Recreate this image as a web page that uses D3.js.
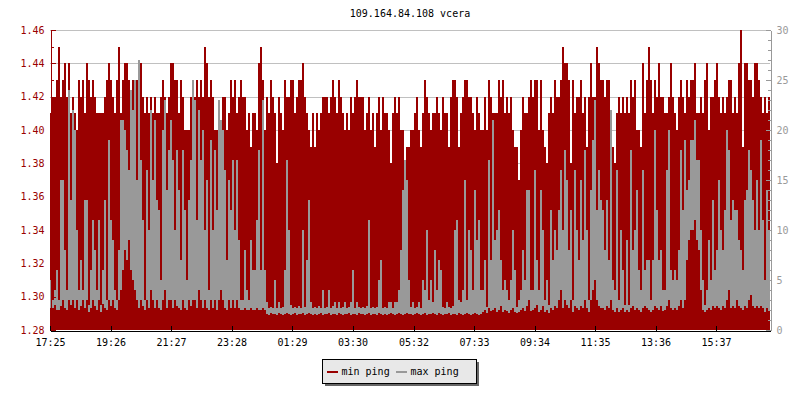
<!DOCTYPE html>
<html><head><meta charset="utf-8">
<script src="https://cdn.jsdelivr.net/npm/d3@7"></script>
<style>
body{margin:0;background:#fff}
svg{display:block}
text{font-family:"DejaVu Sans Mono",monospace;font-size:10px}
</style>
</head><body><svg width="800" height="400"></svg>
<script>
const chartTitle = "109.164.84.108 vcera";
const startLabel = "17:25";
const binMinutes = 4;
const xTickLabels = ["17:25","19:26","21:27","23:28","01:29","03:30","05:32","07:33","09:34","11:35","13:36","15:37"];
const leftTickValues = [1.28,1.30,1.32,1.34,1.36,1.38,1.40,1.42,1.44,1.46];
const leftMinorValues = [1.29,1.31,1.33,1.35,1.37,1.39,1.41,1.43,1.45];
const rightTickValues = [0,5,10,15,20,25,30];
const seriesNames = ["min ping","max ping"];
const seriesColors = ["#990000","#999999"];

const minPing = [
1.41,1.42,1.42,1.43,1.45,1.42,1.43,1.44,1.42,1.44,1.41,1.42,
1.41,1.40,1.43,1.42,1.43,1.41,1.44,1.43,1.42,1.43,1.42,1.41,
1.41,1.41,1.41,1.42,1.43,1.44,1.43,1.42,1.41,1.43,1.45,1.41,
1.43,1.44,1.44,1.43,1.42,1.43,1.43,1.43,1.42,1.44,1.42,1.41,
1.42,1.41,1.42,1.41,1.42,1.41,1.41,1.42,1.43,1.42,1.41,1.42,
1.44,1.44,1.43,1.43,1.41,1.43,1.42,1.40,1.40,1.40,1.42,1.41,
1.42,1.43,1.42,1.43,1.42,1.45,1.44,1.42,1.43,1.42,1.40,1.40,
1.41,1.40,1.42,1.42,1.40,1.41,1.43,1.42,1.43,1.41,1.42,1.43,
1.42,1.42,1.40,1.41,1.39,1.41,1.41,1.40,1.44,1.45,1.43,1.40,
1.42,1.41,1.43,1.42,1.41,1.38,1.42,1.41,1.40,1.43,1.42,1.42,
1.43,1.43,1.41,1.42,1.43,1.43,1.44,1.42,1.41,1.40,1.39,1.41,
1.39,1.41,1.40,1.41,1.42,1.42,1.42,1.41,1.42,1.43,1.42,1.41,
1.43,1.42,1.41,1.40,1.41,1.40,1.42,1.41,1.42,1.43,1.42,1.42,
1.42,1.40,1.41,1.42,1.40,1.41,1.39,1.41,1.42,1.40,1.42,1.41,
1.41,1.40,1.38,1.41,1.42,1.41,1.42,1.40,1.40,1.38,1.39,1.39,
1.40,1.40,1.41,1.42,1.40,1.39,1.41,1.43,1.42,1.41,1.40,1.41,
1.41,1.42,1.41,1.40,1.42,1.41,1.41,1.39,1.42,1.43,1.43,1.42,
1.39,1.41,1.42,1.43,1.43,1.42,1.42,1.41,1.40,1.42,1.41,1.40,
1.40,1.42,1.40,1.43,1.42,1.41,1.41,1.41,1.43,1.42,1.43,1.41,
1.42,1.41,1.42,1.40,1.39,1.39,1.37,1.40,1.42,1.41,1.41,1.42,
1.43,1.42,1.43,1.43,1.40,1.43,1.40,1.39,1.38,1.41,1.42,1.41,
1.43,1.42,1.42,1.43,1.45,1.44,1.44,1.43,1.38,1.43,1.41,1.42,
1.42,1.43,1.41,1.42,1.39,1.42,1.44,1.42,1.42,1.45,1.44,1.43,
1.43,1.42,1.43,1.43,1.41,1.39,1.38,1.41,1.42,1.41,1.42,1.41,
1.42,1.41,1.43,1.42,1.43,1.40,1.40,1.39,1.44,1.41,1.43,1.45,
1.43,1.41,1.43,1.42,1.44,1.42,1.42,1.41,1.41,1.42,1.44,1.42,
1.41,1.40,1.42,1.43,1.42,1.41,1.43,1.42,1.43,1.43,1.44,1.41,
1.41,1.42,1.41,1.43,1.44,1.40,1.42,1.42,1.43,1.44,1.42,1.41,
1.42,1.41,1.42,1.43,1.43,1.41,1.42,1.41,1.44,1.46,1.39,1.44,
1.44,1.43,1.43,1.42,1.44,1.44,1.43,1.42,1.41,1.42,1.41,1.42
];

const maxPingHigh = [
5,3,4,6,3,15,15,8,4,24,13,22,
20,10,4,7,4,13,13,2.5,6,11,8,4,
11,2.5,6,13,3,19,11,9,4,3,8,21,
21,20,18,16,24,22,25,15,27,17,11,3,
16,10,22,15,21,13,12,5,20,23,14,18,
21,17,10,18,14,7,18,12,5,13,17,25,
23,11,22,17,20,10,15,4,19,10,18,12,
23,21,20,16,7,15,12,17,10,17,9,3,
3,8,4,3,9,6,6,11,18,6,23,6,
2.8,2.2,2.3,2.2,5,2.2,2.8,2.2,2.3,6,17,10,
2.5,2.2,2.3,2.2,2.4,2.2,10,2.3,7,13,2.8,2.2,
2.3,2.2,2.4,2.2,4,2.2,2.3,4,2.2,2.4,2.8,2.2,
2.8,2.2,2.3,2.8,2.2,2.3,2.8,6,2.2,2.8,2.3,2.2,
2.3,2.2,2.4,11,2.2,2.3,2.2,2.3,5,7,2.2,2.3,
2.2,2.8,2.8,2.2,2.8,2.8,4,8,14,17,15,5,
2.3,2.8,2.2,2.3,2.8,2.2,5,4,10,3,5,2.8,
8,4,7,6,2.3,2.2,2.8,2.3,2.2,2.4,10,11,
3,2.8,4,15,3,10,8,4,14,9,11,4,
4,7,2.3,17,7,21,9,10,12,7,4,5,
4,3,5,10,6,2.3,3,4,8,5,14,14,
4,4,16,7,4,14,10,3,5,2.5,12,7,
10,8,12,16,10,18,15,8,12,3,16,10,
7,15,9,18,10,3,14,19,23,12,16,13,
12,8,13,7,22,5,4,16,3,10,6,2.5,
9,2.5,18,8,10,14,6,4,16,6,7,7,
3,7,20,12,7,8,4,4,16,20,6,5,
6,5,8,18,12,19,14,15,19,19,21,17,
17,10,5,2.5,4,9,5,13,6,8,15,10,
8,12,20,18,11,13,12,12,9,8,6,13,
14,18,16,13,10,15,10,19,11,5,14,10
];

const maxPingLow = [
2.2,2.2,2.5,2,2,2.4,3,2.2,2,3,2.5,3,
2.2,3,2,2.4,3,2.2,3,1.8,2.2,3,2.4,2,
3,1.8,2.6,2.2,2,3,2.4,3,2.2,2,3,4,
6,8,7,9,6,5,4,3,2.2,3,2.4,2,
3,2.2,4,3,2.2,3,2.2,2,3,4,2.2,3,
3,2.2,3,2.4,2.2,2,3,2.2,2,3,2.4,3,
3,2.2,4,3,2.2,3,2.2,2,3,2.2,3,2,
3,4,3,2.2,2,3,2.2,3,2.2,3,2.2,2,
2,2.2,2,2,2.2,2,2,2.2,2,2,2.2,2,
1.6,1.5,1.7,1.6,1.6,1.5,1.7,1.6,1.5,1.6,1.7,1.6,
1.5,1.6,1.7,1.5,1.6,1.6,1.7,1.5,1.6,1.7,1.6,1.5,
1.6,1.5,1.6,1.7,1.5,1.6,1.6,1.7,1.5,1.6,1.6,1.5,
1.7,1.6,1.5,1.6,1.6,1.7,1.5,1.6,1.6,1.5,1.7,1.6,
1.6,1.5,1.6,1.7,1.5,1.6,1.6,1.5,1.7,1.6,1.5,1.6,
1.5,1.6,1.7,1.6,1.5,1.6,1.7,1.6,1.5,1.6,1.7,1.6,
1.6,1.5,1.6,1.7,1.6,1.5,1.6,1.7,1.5,1.6,1.6,1.7,
1.6,1.5,1.7,1.6,1.5,1.6,1.6,1.7,1.5,1.6,1.6,1.5,
1.7,1.6,1.5,1.6,1.7,1.6,1.5,1.6,1.7,1.6,1.5,1.6,
1.8,2,1.7,2.2,1.9,2,2.2,1.8,2,2.4,1.8,2,
1.9,1.7,2,2.2,1.8,1.7,1.8,2,2.2,1.9,2.4,3,
1.9,2,2.2,2.5,1.8,2,2.4,1.8,2,1.7,2.2,2,
2.4,2.2,3,4,2.2,3,2.5,2.2,3,1.8,2.4,2.2,
2,2.4,2.2,3,2.2,1.8,3,4,5,3,2.4,2.2,
2.2,2,2.4,2.2,3,2,1.8,2.2,1.8,2,2.2,1.8,
2,1.8,2.2,2.4,2,2.2,2,1.8,2.2,2.4,2.2,2,
1.8,2,2.4,2.2,2,2.4,1.9,2,2.4,3,2.2,2,
2.2,2,2.4,3,2.2,3,7,9,10,10,11,9,
8,4,2,1.8,2,2.2,2,2.4,2.2,2.4,2.2,2,
2.4,2.2,3,4,2.2,2.4,2.2,3,2.4,2.2,2,2.4,
2.2,3,3.5,2.4,2.2,2.4,2.2,2.4,2.2,1.8,2.2,2
];

const W = 800, H = 400;
const plot = {left: 50, right: 770, top: 30, bottom: 330};
const svg = d3.select("svg");

const toMin = s => { const [h, m] = s.split(":").map(Number); return h * 60 + m; };
const t0 = new Date(2000, 0, 1, Math.floor(toMin(startLabel) / 60), toMin(startLabel) % 60);
const binTime = i => d3.timeMinute.offset(t0, i * binMinutes);
const labelTime = s => { let d = toMin(s) - toMin(startLabel); if (d < 0) d += 1440; return d3.timeMinute.offset(t0, d); };

const x = d3.scaleTime().domain([t0, binTime(minPing.length)]).range([plot.left, plot.right]);
const yL = d3.scaleLinear().domain([1.28, 1.46]).range([plot.bottom, plot.top]);
const yR = d3.scaleLinear().domain([0, 30]).range([plot.bottom, plot.top]);

// gridlines
svg.append("g").selectAll("line").data(leftTickValues.filter(v => v > 1.28)).join("line")
  .attr("x1", plot.left).attr("x2", plot.right)
  .attr("y1", d => Math.round(yL(d)) + 0.5).attr("y2", d => Math.round(yL(d)) + 0.5)
  .attr("stroke", "#c0c0c0").attr("stroke-width", 1);

// min ping (filled, to bottom)
svg.append("g").attr("shape-rendering", "crispEdges").selectAll("rect").data(minPing).join("rect")
  .attr("x", (d, i) => x(binTime(i)))
  .attr("width", (d, i) => x(binTime(i + 1)) - x(binTime(i)))
  .attr("y", d => yL(d))
  .attr("height", d => plot.bottom - yL(d))
  .attr("fill", seriesColors[0]);

// max ping (range strokes per bin)
svg.append("g").attr("shape-rendering", "crispEdges").selectAll("rect").data(maxPingHigh).join("rect")
  .attr("x", (d, i) => x(binTime(i)))
  .attr("width", (d, i) => x(binTime(i + 1)) - x(binTime(i)))
  .attr("y", (d, i) => yR(Math.max(d, maxPingLow[i])))
  .attr("height", (d, i) => Math.max(1, yR(Math.min(d, maxPingLow[i])) - yR(Math.max(d, maxPingLow[i]))))
  .attr("fill", seriesColors[1]);

function styleAxis(g, color, textColor) {
  g.attr("shape-rendering", "crispEdges");
  g.selectAll("path.domain").attr("stroke", color);
  g.selectAll(".tick line").attr("stroke", color);
  g.selectAll(".tick text").attr("fill", textColor)
    .style("font-family", '"DejaVu Sans Mono", monospace').style("font-size", "10px");
}

// left axis
const gL = svg.append("g").attr("transform", `translate(${plot.left + 0.5},0)`)
  .call(d3.axisLeft(yL).tickValues(leftTickValues).tickFormat(d3.format(".2f")).tickSize(-5).tickSizeOuter(0).tickPadding(6));
styleAxis(gL, "#990000", "#990000");
const gLm = svg.append("g").attr("transform", `translate(${plot.left + 0.5},0)`)
  .call(d3.axisLeft(yL).tickValues(leftMinorValues).tickFormat("").tickSize(-3).tickSizeOuter(0));
styleAxis(gLm, "#990000", "#990000");

// right axis
const gR = svg.append("g").attr("transform", `translate(${plot.right + 0.5},0)`)
  .call(d3.axisRight(yR).tickValues(rightTickValues).tickSize(-5).tickSizeOuter(0).tickPadding(6));
styleAxis(gR, "#999999", "#999999");
const gRm = svg.append("g").attr("transform", `translate(${plot.right + 0.5},0)`)
  .call(d3.axisRight(yR).tickValues(d3.range(0, 31)).tickFormat("").tickSize(-3).tickSizeOuter(0));
styleAxis(gRm, "#999999", "#999999");

// bottom axis
const gB = svg.append("g").attr("transform", `translate(0,${plot.bottom + 0.5})`)
  .call(d3.axisBottom(x).tickValues(xTickLabels.map(labelTime)).tickFormat(d3.timeFormat("%H:%M")).tickSize(-5).tickSizeOuter(0).tickPadding(8));
styleAxis(gB, "#000", "#000");

// title
svg.append("text").attr("x", (plot.left + plot.right) / 2).attr("y", 16.5)
  .attr("text-anchor", "middle").attr("fill", "#000").text(chartTitle);

// legend
const lg = svg.append("g").attr("shape-rendering", "crispEdges");
const lx = 322, ly = 359, lw = 154, lh = 24;
lg.append("rect").attr("x", lx + 3).attr("y", ly + 3).attr("width", lw).attr("height", lh).attr("fill", "#666");
lg.append("rect").attr("x", lx + 0.5).attr("y", ly + 0.5).attr("width", lw).attr("height", lh)
  .attr("fill", "#e8e8e8").attr("stroke", "#000");
const itemX = [327, 396];
seriesNames.forEach((name, i) => {
  lg.append("rect").attr("x", itemX[i]).attr("y", 371).attr("width", 11).attr("height", 2).attr("fill", seriesColors[i]);
  svg.append("text").attr("x", itemX[i] + 14.5).attr("y", 374.5).attr("fill", "#000").text(name);
});
</script>
</body></html>
